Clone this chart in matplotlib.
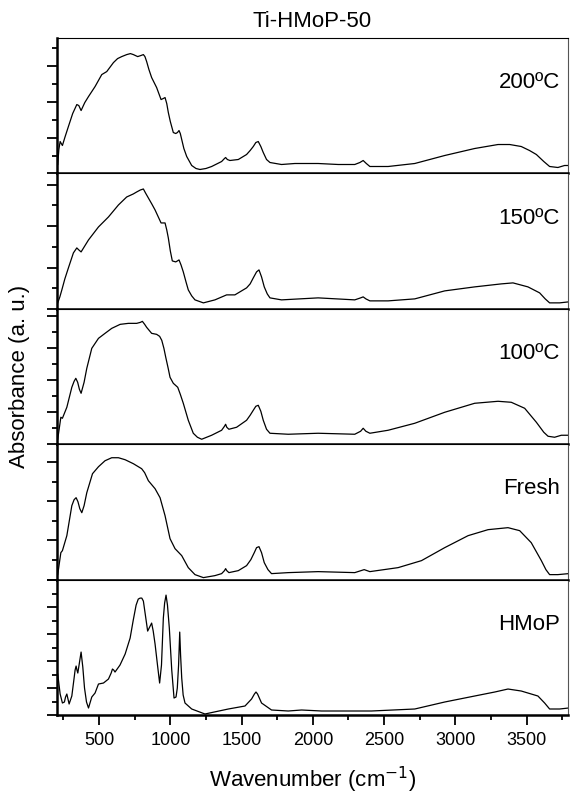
import numpy as np
import matplotlib
matplotlib.use("Agg")
import matplotlib.pyplot as plt
from matplotlib.ticker import MultipleLocator

plt.rcParams['font.family'] = ['Liberation Sans', 'DejaVu Sans']

# FTIR spectra of Ti-HMoP-50 (absorbance in arbitrary units, offset-free)
wn_200 = [210, 218, 227, 243, 260, 285, 315, 344, 358, 374, 400, 426, 472, 519, 554, 601, 630, 659,
          694, 720, 741, 771, 792, 811, 822, 834, 850, 869, 904, 935, 950, 963, 975, 986, 1000, 1021,
          1038, 1050, 1061, 1070, 1080, 1095, 1115, 1150, 1180, 1208, 1250, 1290, 1360, 1380, 1388,
          1400, 1418, 1477, 1535, 1560, 1582, 1600, 1617, 1635, 1652, 1675, 1699, 1780, 1874, 2037,
          2178, 2294, 2330, 2353, 2375, 2400, 2528, 2715, 2925, 3135, 3299, 3381, 3462, 3520, 3568,
          3620, 3661, 3719, 3766, 3794]
abs_200 = [9, 24, 32, 28, 36, 47, 60, 69, 68, 63, 71, 77, 87, 99, 102, 111, 115, 117,
           119, 120, 119, 117, 118, 119, 117, 112, 104, 96, 86, 74, 75, 76, 70, 61, 52, 41,
           40, 41, 43, 40, 34, 25, 17, 8, 5, 4, 5, 7, 12, 15, 16,
           14, 13, 14, 19, 23, 27, 31, 32, 27, 21, 14, 11, 9, 10, 10,
           9, 9, 11, 13, 10, 7, 7, 10, 18, 25, 29, 29, 27, 23, 19,
           12, 7, 6, 8, 8]

wn_150 = [210, 225, 239, 260, 285, 320, 344, 358, 374, 400, 426, 496, 566, 636, 694, 740, 764, 790,
          811, 826, 846, 870, 893, 935, 950, 963, 975, 986, 1000, 1014, 1038, 1050, 1061, 1075, 1091,
          1110, 1126, 1150, 1173, 1232, 1313, 1395, 1453, 1535, 1560, 1582, 1605, 1622, 1640, 1659,
          1680, 1699, 1780, 2037, 2294, 2335, 2353, 2372, 2400, 2528, 2715, 2925, 3135, 3322, 3404,
          3509, 3591, 3630, 3661, 3731, 3794]
abs_150 = [6, 12, 19, 30, 41, 56, 61, 59, 57, 63, 69, 82, 92, 104, 112, 115, 117, 119,
           120, 116, 111, 105, 99, 86, 86, 86, 79, 71, 58, 48, 47, 48, 49, 44, 37,
           27, 19, 13, 9, 6, 9, 14, 14, 21, 25, 31, 37, 39, 32, 22,
           15, 11, 9, 11, 9, 11, 12, 10, 8, 8, 10, 18, 22, 25, 26,
           22, 16, 10, 6, 6, 7]

wn_100 = [210, 232, 243, 274, 309, 325, 337, 350, 362, 374, 395, 414, 449, 496, 542, 589, 648, 706,
          764, 790, 804, 820, 834, 869, 904, 925, 940, 955, 968, 985, 998, 1021, 1052, 1070, 1091,
          1126, 1161, 1190, 1220, 1290, 1360, 1380, 1388, 1396, 1411, 1465, 1535, 1560, 1582, 1600,
          1617, 1635, 1652, 1675, 1699, 1827, 2037, 2294, 2335, 2353, 2372, 2400, 2528, 2715, 2925,
          3135, 3299, 3392, 3486, 3568, 3620, 3650, 3696, 3743, 3794]
abs_100 = [5, 27, 26, 37, 57, 63, 66, 62, 55, 51, 62, 76, 96, 106, 111, 116, 120, 121,
           121, 122, 123, 120, 117, 111, 110, 108, 104, 96, 87, 76, 67, 61, 57, 50, 41,
           24, 11, 7, 5, 9, 14, 18, 20, 17, 15, 17, 24, 29, 34, 38,
           39, 33, 24, 15, 11, 10, 11, 10, 13, 16, 13, 11, 14, 21, 32,
           41, 43, 42, 36, 22, 12, 8, 7, 9, 9]

wn_fresh = [210, 232, 243, 274, 309, 325, 339, 352, 365, 379, 395, 414, 454, 496, 542, 589, 636, 683,
            741, 799, 820, 846, 893, 928, 963, 998, 1033, 1080, 1126, 1173, 1232, 1313, 1360, 1380,
            1388, 1396, 1411, 1477, 1535, 1565, 1589, 1605, 1622, 1640, 1659, 1685, 1710, 1827, 2037,
            2294, 2360, 2400, 2598, 2762, 2925, 3089, 3229, 3369, 3451, 3532, 3603, 3635, 3661, 3719,
            3794]
abs_fresh = [5, 27, 29, 44, 74, 80, 82, 78, 71, 67, 74, 87, 106, 113, 119, 122, 122, 120,
             116, 111, 107, 99, 91, 82, 64, 41, 31, 24, 12, 5, 2, 4, 6, 9,
             11, 9, 7, 9, 14, 20, 27, 32, 33, 27, 17, 10, 6, 7, 8,
             7, 10, 8, 12, 19, 32, 44, 50, 52, 49, 37, 19, 10, 5, 5,
             6]

wn_hmop = [210, 227, 243, 257, 265, 274, 282, 290, 309, 325, 332, 339, 345, 351, 362, 374, 386, 398,
           412, 426, 449, 472, 496, 531, 566, 585, 594, 603, 612, 647, 683, 718, 740, 760, 775, 788,
           800, 811, 825, 841, 855, 869, 880, 893, 910, 925, 938, 951, 960, 970, 980, 993, 1010, 1026,
           1040, 1049, 1058, 1066, 1072, 1080, 1090, 1103, 1150, 1243, 1407, 1524, 1570, 1590, 1601,
           1612, 1640, 1710, 1827, 1921, 2061, 2411, 2715, 2925, 3135, 3276, 3369, 3462, 3579, 3626,
           3661, 3731, 3794]
abs_hmop = [41, 21, 12, 13, 18, 21, 16, 11, 19, 37, 45, 49, 45, 42, 52, 63, 48, 27,
            13, 7, 18, 22, 31, 32, 36, 42, 46, 45, 43, 50, 61, 77, 95, 110, 116, 117,
            117, 114, 100, 84, 88, 92, 84, 71, 50, 32, 50, 97, 112, 120, 110, 87, 45, 17,
            18, 27, 50, 83, 60, 37, 20, 12, 6, 1, 6, 9, 16, 21, 23,
            21, 12, 5, 4, 5, 4, 4, 6, 13, 19, 23, 26, 24, 19, 12,
            6, 6, 7]

panels = [
    ("200ºC", wn_200, abs_200, 18.0),
    ("150ºC", wn_150, abs_150, 20.7),
    ("100ºC", wn_100, abs_100, 16.0),
    ("Fresh", wn_fresh, abs_fresh, 19.6),
    ("HMoP", wn_hmop, abs_hmop, 13.5),
]

fig, axes = plt.subplots(len(panels), 1, sharex=True, figsize=(5.7, 7.94), dpi=100)
fig.subplots_adjust(left=0.1, right=0.9965, top=0.952, bottom=0.0995, hspace=0)

for ax, (name, wn, ab, step) in zip(axes, panels):
    ax.plot(wn, ab, color='k', lw=0.9, solid_joinstyle='round')
    ax.set_xlim(205, 3790)
    ax.set_ylim(0, 135.5)
    ax.text(0.984, 0.67, name, transform=ax.transAxes, ha='right', va='center', fontsize=16)

    ax.xaxis.set_major_locator(MultipleLocator(500))
    ax.xaxis.set_minor_locator(MultipleLocator(250))
    ax.yaxis.set_major_locator(MultipleLocator(2 * step))
    ax.yaxis.set_minor_locator(MultipleLocator(step))
    ax.tick_params(axis='both', which='major', direction='out', length=7, width=1.3,
                   labelsize=13, pad=5, top=False, right=False)
    ax.tick_params(axis='both', which='minor', direction='out', length=3.5, width=1.3,
                   top=False, right=False)
    ax.tick_params(axis='y', which='both', labelleft=False)

    ax.spines['left'].set_linewidth(1.8)
    ax.spines['bottom'].set_linewidth(1.8)
    ax.spines['top'].set_linewidth(0.8)
    ax.spines['right'].set_linewidth(0.8)
    ax.spines['right'].set_color('#555555')

fig.text(0.548, 0.973, "Ti-HMoP-50", ha='center', va='center', fontsize=16)
fig.text(0.035, 0.526, "Absorbance (a. u.)", rotation=90, ha='center', va='center', fontsize=16)
fig.text(0.548, 0.018, "Wavenumber (cm$^{-1}$)", ha='center', va='center', fontsize=16)

fig.savefig("out.png", dpi=100)
